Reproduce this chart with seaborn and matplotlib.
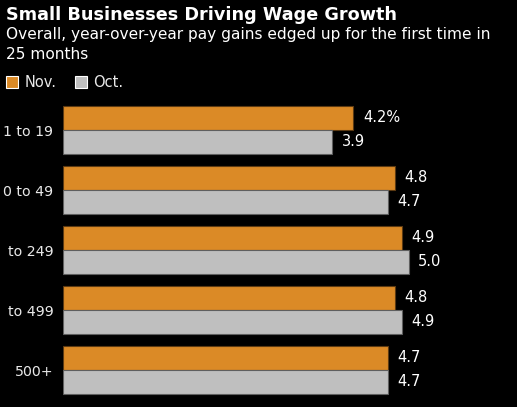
import matplotlib
matplotlib.use("Agg")
import matplotlib.pyplot as plt
import pandas as pd
import seaborn as sns

categories = ["1 to 19", "0 to 49", "to 249", "to 499", "500+"]
nov = [4.2, 4.8, 4.9, 4.8, 4.7]
oct_ = [3.9, 4.7, 5.0, 4.9, 4.7]
series = ["Nov.", "Oct."]
colors = {"Nov.": "#DB8A26", "Oct.": "#BFBFBF"}
edges = {"Nov.": "#5C3A12", "Oct.": "#5F5F5F"}

df = pd.DataFrame({
    "size": categories * 2,
    "series": [series[0]] * len(categories) + [series[1]] * len(categories),
    "value": nov + oct_,
})

sns.set_style("dark")
plt.rcParams["font.family"] = ["DejaVu Sans"]

W, H = 517, 407
fig = plt.figure(figsize=(W / 100, H / 100), dpi=100, facecolor="black")
ax = fig.add_axes([63 / W, 7 / H, (W - 63) / W, 300 / H])
ax.set_facecolor("black")

sns.barplot(
    data=df, x="value", y="size", hue="series", orient="h",
    palette=colors, saturation=1, width=0.8, linewidth=0.8, ax=ax,
)
for cont, name in zip(ax.containers, series):
    for patch in cont:
        patch.set_edgecolor(edges[name])
    vals = nov if name == "Nov." else oct_
    labels = [f"{v:.1f}" for v in vals]
    if name == "Nov.":
        labels[0] = labels[0] + "%"
    ax.bar_label(cont, labels=labels, padding=7, color="white", fontsize=10.5)

ax.set_xlim(0, (W - 63) / 69.1)
ax.set_ylim(4.5, -0.5)
ax.set_xlabel("")
ax.set_ylabel("")
ax.set_xticks([])
ax.tick_params(axis="y", length=0, pad=7, labelcolor="#E8E8E8", labelsize=10.2)
for s in ax.spines.values():
    s.set_visible(False)
ax.grid(False)

sns.move_legend(
    ax, loc="upper left", bbox_to_anchor=(6 / W, 1 - 75 / H),
    bbox_transform=fig.transFigure, ncol=2, frameon=False, title=None,
    borderaxespad=0, borderpad=0,
    handlelength=0.8, handleheight=0.8, handletextpad=0.45, columnspacing=1.3,
    labelcolor="#E8E8E8", fontsize=10.5,
)

fig.text(6 / W, 1 - 6 / H, "Small Businesses Driving Wage Growth",
         color="white", fontsize=12.7, fontweight="bold", va="top", ha="left")
fig.text(6 / W, 1 - 27 / H,
         "Overall, year-over-year pay gains edged up for the first time in\n25 months",
         color="white", fontsize=11.1, va="top", ha="left", linespacing=1.4)

fig.savefig("out.png", dpi=100, facecolor="black")
